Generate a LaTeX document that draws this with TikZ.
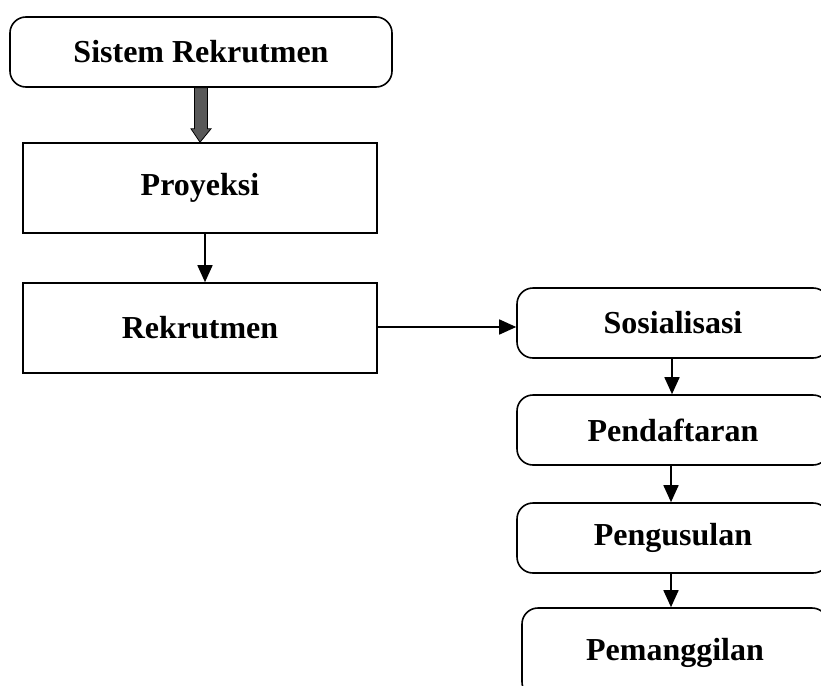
\documentclass[tikz,border=0pt]{standalone}
\usepackage{fontspec}
\setmainfont{Liberation Serif}
\usetikzlibrary{arrows.meta,calc}
\begin{document}
\begin{tikzpicture}[x=1pt,y=-1pt,
  box/.style={draw=black,line width=1.6pt,inner sep=0pt,font=\fontsize{32}{36}\selectfont\bfseries},
  rbox/.style={box,rounded corners=16pt},
  arr/.style={line width=1.6pt,-{Triangle[width=15pt,length=17pt]}}]
\useasboundingbox (0,0) rectangle (821,685);
\clip (0,0) rectangle (821,685);
\node[rbox,minimum width=382pt,minimum height=70pt] (sis) at (201,52) {Sistem Rekrutmen};
\node[box,minimum width=354pt,minimum height=90pt] (pro) at (200,188) {Proyeksi};
\node[box,minimum width=354pt,minimum height=90pt] (rek) at (200,328) {Rekrutmen};
\node[rbox,minimum width=312pt,minimum height=70pt] (sos) at (673,323) {Sosialisasi};
\node[rbox,minimum width=312pt,minimum height=70pt] (pen) at (673,430) {Pendaftaran};
\node[rbox,minimum width=312pt,minimum height=70pt] (pgs) at (673,538) {Pengusulan};
\node[rbox,minimum width=306pt,minimum height=90pt] (pem) at (675,653) {Pemanggilan};
% gray block arrow
\filldraw[fill=black!65,draw=black,line width=0.8pt]
  ($(sis.south)+(-6.5,0)$) -- ($(sis.south)+(-6.5,41)$)
  -- ($(sis.south)+(-10,41)$) -- (pro.north)
  -- ($(sis.south)+(10,41)$) -- ($(sis.south)+(6.5,41)$)
  -- ($(sis.south)+(6.5,0)$) -- cycle;
\draw[arr] ($(pro.south)+(5,0)$) -- ($(rek.north)+(5,0)$);
\draw[arr] (rek.east |- 0,327) -- (sos.west |- 0,327);
\draw[arr] ($(sos.south)+(-1,0)$) -- ($(pen.north)+(-1,0)$);
\draw[arr] ($(pen.south)+(-2,0)$) -- ($(pgs.north)+(-2,0)$);
\draw[arr] ($(pgs.south)+(-2,0)$) -- ($(pem.north)+(-4,0)$);
\end{tikzpicture}
\end{document}
